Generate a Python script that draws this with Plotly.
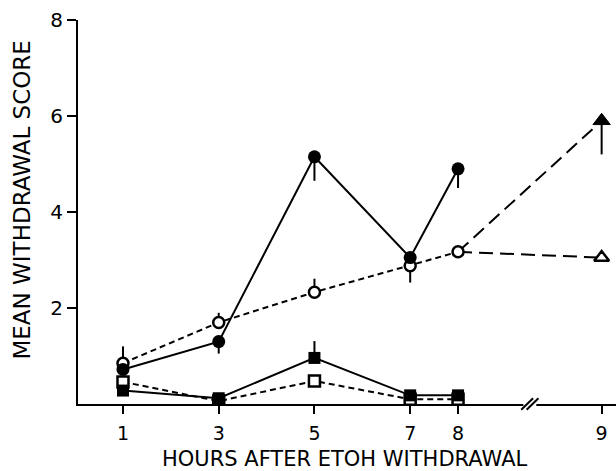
import plotly.graph_objects as go

# ---- data ----
hours = [1, 3, 5, 7, 8]
filled_circle = [0.72, 1.30, 5.15, 3.05, 4.90]
filled_circle_err_minus = [0.0, 0.25, 0.50, 0.0, 0.40]
filled_circle_err_plus = [0.0, 0.0, 0.0, 0.12, 0.0]

open_circle = [0.85, 1.70, 2.33, 2.88, 3.17]
open_circle_err_plus = [0.35, 0.20, 0.28, 0.0, 0.0]
open_circle_err_minus = [0.0, 0.0, 0.0, 0.35, 0.0]

filled_square = [0.28, 0.12, 0.96, 0.18, 0.18]
filled_square_err_plus = [0.0, 0.10, 0.35, 0.10, 0.10]

open_square = [0.46, 0.06, 0.48, 0.10, 0.10]

late_hour = 9
filled_triangle = 5.90
filled_triangle_err_minus = 0.70
open_triangle = 3.05

x_tick_hours = [1, 3, 5, 7, 8, 9]
y_ticks = [2, 4, 6, 8]
x_title = "HOURS AFTER ETOH WITHDRAWAL"
y_title = "MEAN WITHDRAWAL SCORE"

# ---- axis break mapping ----
BREAK_AFTER = 8
BREAK_SHIFT = 2.0
BREAK_MARK = 9.5
X_RANGE = [0.06, 11.3]


def xpos(h):
    return h if h <= BREAK_AFTER else h + BREAK_SHIFT


FONT = "DejaVu Sans, Arial, Helvetica, sans-serif"
fig = go.Figure()

xs = [xpos(h) for h in hours]
late_x = [xpos(BREAK_AFTER), xpos(late_hour)]

# long-dashed connectors to hour 9
for end in (open_triangle, filled_triangle):
    fig.add_trace(go.Scatter(
        x=late_x, y=[open_circle[-1], end], mode="lines",
        line=dict(color="black", width=2, dash="14px,7px"),
        showlegend=False))
fig.add_trace(go.Scatter(
    x=[xpos(late_hour)], y=[open_triangle], mode="markers",
    marker=dict(symbol="triangle-up", size=13, color="white", opacity=1,
                line=dict(width=2.5, color="black")),
    showlegend=False))
fig.add_trace(go.Scatter(
    x=[xpos(late_hour)], y=[filled_triangle], mode="markers",
    marker=dict(symbol="triangle-up", size=15, color="black", opacity=1,
                line=dict(width=1, color="black")),
    error_y=dict(type="data", symmetric=False, array=[0],
                 arrayminus=[filled_triangle_err_minus],
                 color="black", thickness=2, width=0),
    showlegend=False))

# open squares dashed
fig.add_trace(go.Scatter(
    x=xs, y=open_square, mode="lines+markers",
    line=dict(color="black", width=2, dash="6px,4px"),
    marker=dict(symbol="square", size=11, color="white",
                line=dict(width=2.5, color="black")),
    showlegend=False))
# filled squares solid
fig.add_trace(go.Scatter(
    x=xs, y=filled_square, mode="lines+markers",
    line=dict(color="black", width=2),
    marker=dict(symbol="square", size=12, color="black"),
    error_y=dict(type="data", symmetric=False, array=filled_square_err_plus,
                 arrayminus=[0] * len(hours), color="black", thickness=2, width=0),
    showlegend=False))
# open circles dashed
fig.add_trace(go.Scatter(
    x=xs, y=open_circle, mode="lines+markers",
    line=dict(color="black", width=2, dash="6px,4px"),
    marker=dict(symbol="circle", size=11, color="white",
                line=dict(width=2.5, color="black")),
    error_y=dict(type="data", symmetric=False, array=open_circle_err_plus,
                 arrayminus=open_circle_err_minus, color="black", thickness=2, width=0),
    showlegend=False))
# filled circles solid
fig.add_trace(go.Scatter(
    x=xs, y=filled_circle, mode="lines+markers",
    line=dict(color="black", width=2),
    marker=dict(symbol="circle", size=13, color="black"),
    error_y=dict(type="data", symmetric=False, array=filled_circle_err_plus,
                 arrayminus=filled_circle_err_minus, color="black", thickness=2, width=0),
    showlegend=False))

# axis break mark
bx = (BREAK_MARK - X_RANGE[0]) / (X_RANGE[1] - X_RANGE[0])
fig.add_shape(type="rect", xref="x domain", yref="y domain",
              x0=bx - 0.012, x1=bx + 0.012, y0=-0.01, y1=0.01,
              fillcolor="white", line=dict(width=0))
for off in (-0.005, 0.005):
    fig.add_shape(type="line", xref="x domain", yref="y domain",
                  x0=bx + off - 0.011, x1=bx + off + 0.011, y0=-0.015, y1=0.015,
                  line=dict(color="black", width=2))

fig.add_annotation(text=y_title, xref="paper", yref="paper", x=-0.104, y=0.53,
                   textangle=-90, showarrow=False, xanchor="center", yanchor="middle",
                   font=dict(family=FONT, size=23, color="black"))
fig.add_annotation(text=x_title, xref="paper", yref="paper", x=0.496, y=-0.143,
                   showarrow=False, xanchor="center", yanchor="middle",
                   font=dict(family=FONT, size=21, color="black"))

fig.update_layout(
    width=616, height=471,
    margin=dict(l=78, r=0, t=20, b=67),
    plot_bgcolor="white", paper_bgcolor="white",
    font=dict(family=FONT, color="black"),
    hovermode=False,
    xaxis=dict(range=X_RANGE, tickvals=[xpos(h) for h in x_tick_hours],
               ticktext=[str(h) for h in x_tick_hours],
               showline=True, linecolor="black", linewidth=2,
               ticks="outside", ticklen=8, tickwidth=2, tickcolor="black",
               ticklabelstandoff=3,
               showgrid=False, zeroline=False,
               tickfont=dict(family=FONT, size=19, color="black")),
    yaxis=dict(range=[0, 8], tickvals=y_ticks,
               showline=True, linecolor="black", linewidth=2,
               ticks="outside", ticklen=9, tickwidth=2, tickcolor="black",
               showgrid=False, zeroline=False,
               tickfont=dict(family=FONT, size=20, color="black")),
)

# remove the default page margin so the figure fills the window exactly
fig.write_html("out.html",
               config={"displayModeBar": False},
               post_script="document.body.style.margin='0';document.body.style.overflow='hidden';")
